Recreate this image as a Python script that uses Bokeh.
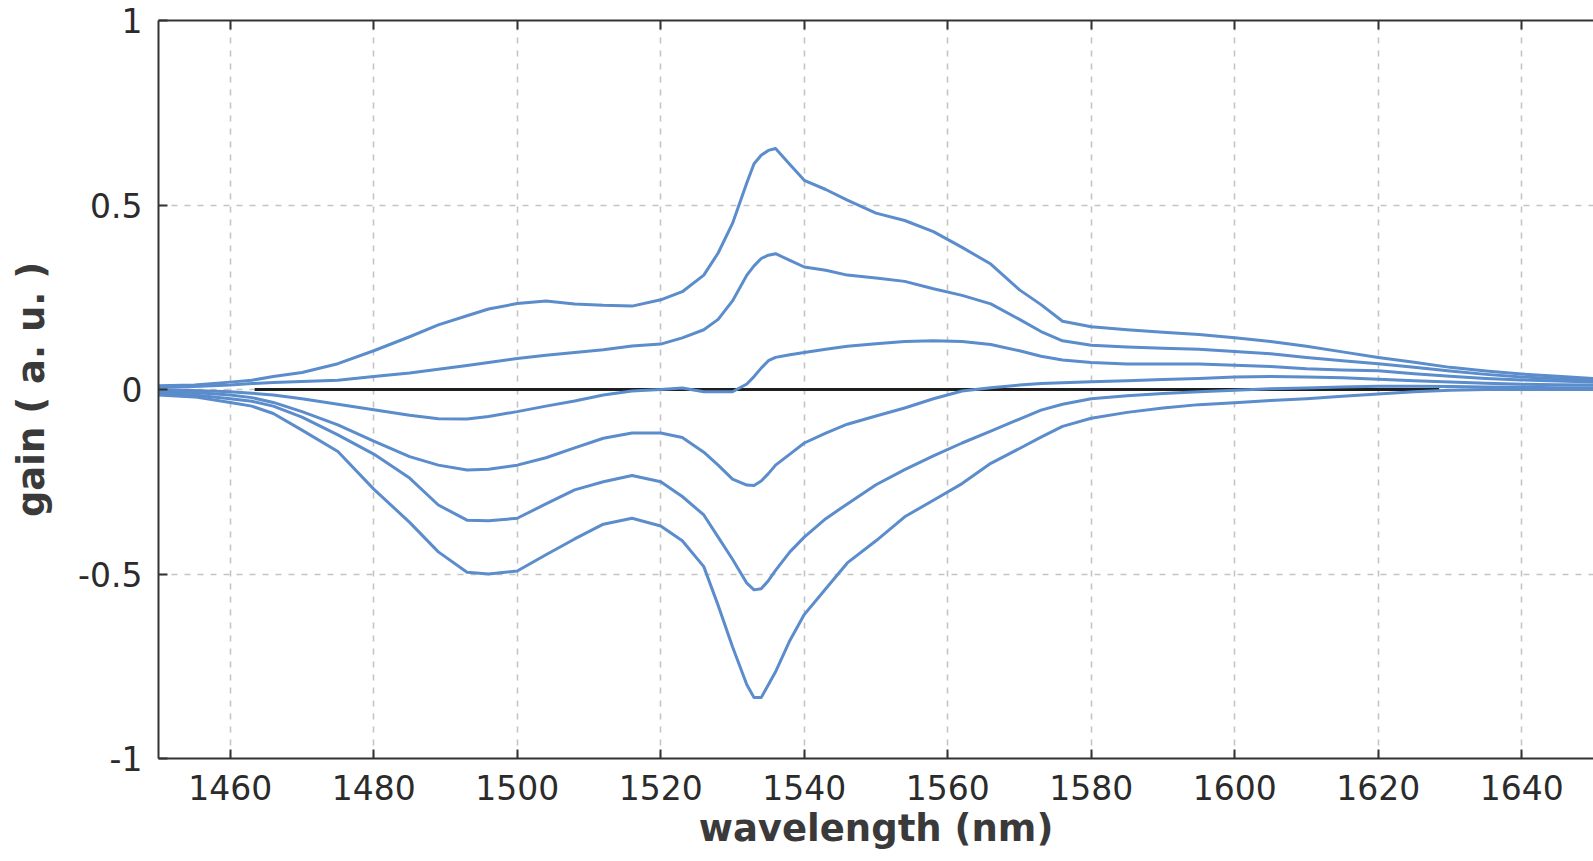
from bokeh.plotting import figure
from bokeh.models import Range1d, FixedTicker, LinearAxis, CustomJSTickFormatter
from bokeh.embed import file_html
from bokeh.resources import INLINE

# ---- data ----
wavelength = [1450, 1455, 1460, 1463, 1466, 1470, 1475, 1480, 1485, 1489, 1493, 1496,
              1500, 1504, 1508, 1512, 1516, 1520, 1523, 1526, 1528, 1530, 1532, 1533,
              1534, 1535, 1536, 1538, 1540, 1543, 1546, 1550, 1554, 1558, 1562, 1566,
              1570, 1573, 1576, 1580, 1585, 1590, 1595, 1600, 1605, 1610, 1615, 1620,
              1625, 1630, 1635, 1640, 1645, 1650]

gain_1 = [0.010, 0.012, 0.020, 0.025, 0.035, 0.046, 0.070, 0.105, 0.143, 0.175, 0.200, 0.218,
          0.233, 0.240, 0.232, 0.228, 0.226, 0.243, 0.265, 0.310, 0.370, 0.450, 0.560, 0.612,
          0.635, 0.648, 0.653, 0.610, 0.567, 0.542, 0.513, 0.478, 0.458, 0.428, 0.385, 0.340,
          0.270, 0.230, 0.185, 0.170, 0.162, 0.155, 0.149, 0.140, 0.130, 0.117, 0.102, 0.087,
          0.074, 0.060, 0.050, 0.042, 0.036, 0.030]

gain_2 = [0.006, 0.008, 0.012, 0.016, 0.019, 0.022, 0.025, 0.035, 0.045, 0.055, 0.065, 0.073,
          0.084, 0.093, 0.100, 0.108, 0.118, 0.123, 0.140, 0.162, 0.190, 0.240, 0.310, 0.335,
          0.355, 0.364, 0.368, 0.350, 0.332, 0.323, 0.310, 0.302, 0.293, 0.273, 0.255, 0.232,
          0.190, 0.157, 0.132, 0.120, 0.115, 0.112, 0.109, 0.103, 0.097, 0.087, 0.078, 0.070,
          0.060, 0.050, 0.041, 0.034, 0.029, 0.024]

gain_3 = [0.000, -0.003, -0.006, -0.010, -0.015, -0.025, -0.040, -0.055, -0.070, -0.079, -0.080, -0.073,
          -0.060, -0.045, -0.031, -0.015, -0.004, 0.000, 0.004, -0.006, -0.006, -0.006, 0.015, 0.035,
          0.058, 0.078, 0.087, 0.094, 0.100, 0.109, 0.117, 0.124, 0.130, 0.132, 0.130, 0.122,
          0.105, 0.090, 0.080, 0.073, 0.069, 0.069, 0.069, 0.066, 0.062, 0.056, 0.053, 0.051,
          0.043, 0.036, 0.030, 0.026, 0.023, 0.020]

gain_4 = [-0.005, -0.008, -0.015, -0.022, -0.035, -0.060, -0.096, -0.140, -0.182, -0.205, -0.218, -0.216,
          -0.205, -0.185, -0.158, -0.132, -0.118, -0.118, -0.130, -0.170, -0.205, -0.243, -0.259, -0.260,
          -0.248, -0.228, -0.205, -0.175, -0.145, -0.118, -0.094, -0.072, -0.050, -0.025, -0.004, 0.005,
          0.012, 0.016, 0.018, 0.021, 0.024, 0.027, 0.030, 0.034, 0.035, 0.034, 0.032, 0.028,
          0.024, 0.020, 0.017, 0.014, 0.013, 0.012]

gain_5 = [-0.010, -0.015, -0.025, -0.032, -0.045, -0.075, -0.123, -0.175, -0.240, -0.313, -0.354, -0.356,
          -0.349, -0.310, -0.272, -0.250, -0.233, -0.250, -0.290, -0.340, -0.400, -0.460, -0.525, -0.543,
          -0.540, -0.518, -0.490, -0.440, -0.400, -0.350, -0.310, -0.258, -0.217, -0.180, -0.145, -0.113,
          -0.080, -0.056, -0.040, -0.025, -0.017, -0.011, -0.006, -0.002, 0.002, 0.004, 0.007, 0.009,
          0.009, 0.008, 0.007, 0.006, 0.005, 0.005]

gain_6 = [-0.015, -0.020, -0.035, -0.045, -0.065, -0.110, -0.168, -0.270, -0.360, -0.440, -0.495, -0.500,
          -0.492, -0.448, -0.405, -0.365, -0.349, -0.370, -0.410, -0.480, -0.585, -0.697, -0.800, -0.835,
          -0.835, -0.800, -0.765, -0.680, -0.610, -0.540, -0.470, -0.410, -0.345, -0.300, -0.255, -0.200,
          -0.160, -0.129, -0.100, -0.078, -0.062, -0.050, -0.041, -0.036, -0.030, -0.025, -0.018, -0.012,
          -0.006, -0.002, 0.000, 0.000, 0.000, 0.000]

curves = [gain_1, gain_2, gain_3, gain_4, gain_5, gain_6]

zero_line_x = [1463.4, 1628.5]
zero_line_y = [0.0, 0.0]

x_ticks = [1460, 1480, 1500, 1520, 1540, 1560, 1580, 1600, 1620, 1640]
y_ticks = [-1, -0.5, 0, 0.5, 1]

FONT = "DejaVu Sans"
BLUE = "#5B8CCB"
AXIS = "#333333"

p = figure(width=1593, height=861,
           x_range=Range1d(1450, 1650), y_range=Range1d(-1, 1),
           output_backend="svg", toolbar_location=None,
           min_border_left=158, min_border_right=0, min_border_top=20, min_border_bottom=103,
           x_axis_label="wavelength (nm)", y_axis_label="gain ( a. u. )")
p.outline_line_color = None
p.background_fill_color = "white"
p.border_fill_color = "white"

fmt = CustomJSTickFormatter(code="return tick.toString();")

for ax, ticks in ((p.xaxis[0], x_ticks), (p.yaxis[0], y_ticks)):
    ax.ticker = FixedTicker(ticks=ticks)
    ax.formatter = fmt
    ax.axis_line_color = AXIS
    ax.axis_line_width = 2
    ax.major_tick_line_color = AXIS
    ax.major_tick_line_width = 2
    ax.major_tick_in = 9
    ax.major_tick_out = 0
    ax.minor_tick_line_color = None
    ax.major_label_text_font = FONT
    ax.major_label_text_font_size = "33px"
    ax.major_label_text_color = "#2b2b2b"
    ax.axis_label_text_font = FONT
    ax.axis_label_text_font_size = "37px"
    ax.axis_label_text_font_style = "bold"
    ax.axis_label_text_color = "#3a3a3a"

p.xaxis[0].major_label_standoff = 16
p.xaxis[0].axis_label_standoff = 4
p.yaxis[0].major_label_standoff = 16
p.yaxis[0].axis_label_standoff = 22

top_axis = LinearAxis(ticker=FixedTicker(ticks=x_ticks),
                      formatter=CustomJSTickFormatter(code="return '';"),
                      axis_line_color=AXIS, axis_line_width=2,
                      major_tick_line_color=AXIS, major_tick_line_width=2,
                      major_tick_in=9, major_tick_out=0, minor_tick_line_color=None,
                      major_label_text_font_size="8px", major_label_standoff=0)
p.add_layout(top_axis, "above")

for g in (p.xgrid[0], p.ygrid[0]):
    g.grid_line_color = "#c4c4c4"
    g.grid_line_width = 1.6
    g.grid_line_dash = "6 7"
p.xgrid[0].ticker = FixedTicker(ticks=x_ticks)
p.ygrid[0].ticker = FixedTicker(ticks=y_ticks)

p.line(zero_line_x, zero_line_y, line_color="#1f1f1f", line_width=3)

for c in curves:
    p.line(wavelength, c, line_color=BLUE, line_width=3, line_join="round")

open("out.html", "w").write(file_html(p, INLINE))
